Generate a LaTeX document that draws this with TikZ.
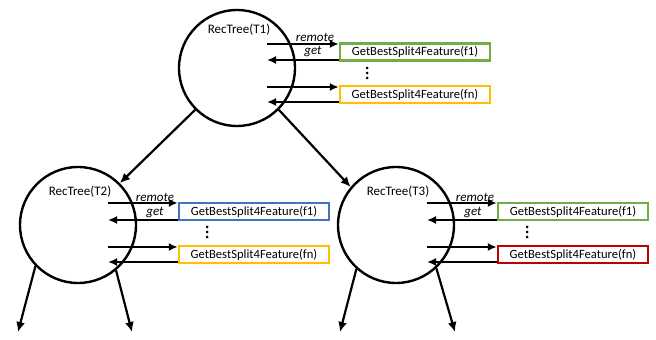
\documentclass[tikz,border=0pt]{standalone}
\usepackage{fontspec}
\setmainfont{Carlito}
\usetikzlibrary{arrows.meta,positioning}
\definecolor{featgreen}{HTML}{70AD47}
\definecolor{featblue}{HTML}{4472C4}
\definecolor{featgold}{HTML}{FFC000}
\definecolor{featred}{HTML}{C00000}

\begin{document}
\begin{tikzpicture}[x=1pt,y=1pt,
		tree/.style={circle,draw,line width=2.4pt,minimum size=116pt,inner sep=0pt},
		feat/.style={draw,line width=2.4pt,minimum width=150pt,minimum height=17pt,inner sep=0pt,font=\fontsize{12.6}{14}\selectfont},
		lbl/.style={inner sep=0pt,font=\fontsize{13}{14}\selectfont},
		tag/.style={inner sep=0pt,font=\fontsize{13}{14}\selectfont\itshape},
		call/.style={-{Latex[length=9pt,width=8pt]},line width=2.2pt},
		edge/.style={-{Latex[length=10pt,width=9pt]},line width=2.2pt}]
		\useasboundingbox (0,0) rectangle (656,340);

		% the three trees
		\node[tree] (t1) at (237,272) {};
		\node[tree] (t2) at (78,115) {};
		\node[tree] (t3) at (396,115) {};
		\node[lbl] (n1) at (239,310) {RecTree(T1)};
		\node[lbl] (n2) at (80,148) {RecTree(T2)};
		\node[lbl] (n3) at (398,148) {RecTree(T3)};

		% feature boxes
		\node[feat,draw=featgreen] (f11) at (415,288) {GetBestSplit4Feature(f1)};
		\node[feat,draw=featgold] (f1n) at (415,245.5) {GetBestSplit4Feature(fn)};
		\node[feat,draw=featblue] (f21) at (254,128.5) {GetBestSplit4Feature(f1)};
		\node[feat,draw=featgold] (f2n) at (254,85.5) {GetBestSplit4Feature(fn)};
		\node[feat,draw=featgreen] (f31) at (573,128.5) {GetBestSplit4Feature(f1)};
		\node[feat,draw=featred] (f3n) at (573,85.5) {GetBestSplit4Feature(fn)};

		% dots between the boxes
		\coordinate (d1) at (367,267);
		\coordinate (d2) at (207,108);
		\coordinate (d3) at (527,108);
		\foreach \d in {d1,d2,d3}
			\foreach \s in {-5,0,5}
				\fill ([yshift=\s]\d) circle (1.5);

		% remote / get labels
		\node[tag] (r1) at (315,303) {remote};
		\node[tag] (g1) at (313,288) {get};
		\node[tag] (r2) at (155,143) {remote};
		\node[tag] (g2) at (155,127) {get};
		\node[tag] (r3) at (475,143) {remote};
		\node[tag] (g3) at (473,127) {get};

		% calls out of T1
		\coordinate (t1a) at (267,296);
		\coordinate (t1b) at (267,280);
		\coordinate (t1c) at (267,253);
		\coordinate (t1d) at (267,238);
		\draw[call] (t1a) -- (t1a -| f11.west);
		\draw[call] (t1b -| f11.west) -- (t1b);
		\draw[call] (t1c) -- (t1c -| f1n.west);
		\draw[call] (t1d -| f1n.west) -- (t1d);

		% calls out of T2
		\coordinate (t2a) at (108,137);
		\coordinate (t2b) at (108,120);
		\coordinate (t2c) at (108,93);
		\coordinate (t2d) at (108,78);
		\draw[call] (t2a) -- (t2a -| f21.west);
		\draw[call] (t2b -| f21.west) -- (t2b);
		\draw[call] (t2c) -- (t2c -| f2n.west);
		\draw[call] (t2d -| f2n.west) -- (t2d);

		% calls out of T3
		\coordinate (t3a) at (427,137);
		\coordinate (t3b) at (427,120);
		\coordinate (t3c) at (427,93);
		\coordinate (t3d) at (427,78);
		\draw[call] (t3a) -- (t3a -| f31.west);
		\draw[call] (t3b -| f31.west) -- (t3b);
		\draw[call] (t3c) -- (t3c -| f3n.west);
		\draw[call] (t3d -| f3n.west) -- (t3d);

		% tree edges
		\draw[edge] (t1.225) -- (t2.45);
		\draw[edge] (t1.-45) -- (t3.140);
		\coordinate (l2) at (18,8);
		\coordinate (r2e) at (132,8);
		\coordinate (l3) at (340,8);
		\coordinate (r3e) at (455,8);
		\draw[edge] (t2.224) -- (l2);
		\draw[edge] (t2.-50) -- (r2e);
		\draw[edge] (t3.228) -- (l3);
		\draw[edge] (t3.-47) -- (r3e);
\end{tikzpicture}
\end{document}
